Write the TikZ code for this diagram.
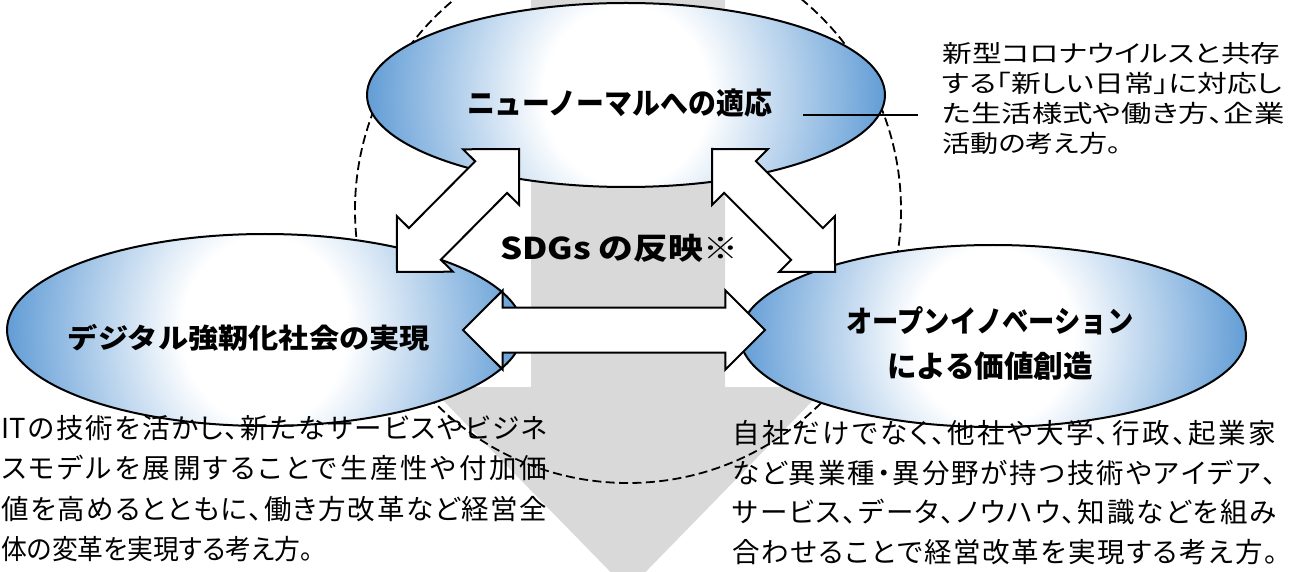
\documentclass[tikz,border=0pt]{standalone}
\usepackage{fontspec}
\usepackage{graphicx}
\usetikzlibrary{calc,shapes.geometric}
\newfontfamily\jp{Noto Sans CJK JP}
\newfontfamily\jpp{Noto Sans CJK JP}[RawFeature=+palt]
\definecolor{ellb}{RGB}{98,157,214}
\definecolor{graybg}{RGB}{217,217,217}
\pgfdeclareradialshading{ellblue}{\pgfpointorigin}{color(0bp)=(white); color(8bp)=(white); color(25bp)=(ellb); color(50bp)=(ellb)}
\newdimen\pxu \pxu=0.5pt
\newcommand\fitw[2]{\resizebox{#1\pxu}{\height}{#2}}
\makeatletter
\newcommand\jline[2]{\hbox to #1\pxu{\let\jl@sep\relax\@tfor\jl@c:=#2\do{\jl@sep\jl@c\let\jl@sep\hfill}}}
\makeatother
\tikzset{
  blockarr/.style={draw=black, fill=white, line width=1pt, line join=miter},
  ellout/.style={ellipse, draw=black, line width=1pt, inner sep=0pt, outer sep=0pt},
  circdash/.style={draw=black, line width=0.9pt, dash pattern=on 4.5pt off 2.2pt},
  title/.style={inner sep=0pt, font=\jp\bfseries\fontsize{15}{22.5}\selectfont, align=center},
  body/.style={inner sep=0pt, anchor=north west, align=left, font=\jpp\fontsize{13.75}{20.25}\selectfont},
  note/.style={inner sep=0pt, anchor=north west, align=left, font=\jpp\fontsize{12}{15}\selectfont},
}
\newcommand\shellipse[5]{%
  \begin{scope}
    \clip (#2,#3) ellipse [x radius=#4, y radius=#5];
    \shade[shading=ellblue] ({#2-#4},{#3-3*#5}) rectangle ({#2+#4},{#3+3*#5});
  \end{scope}
  \node[ellout, minimum width=#4pt, minimum height=#5pt] (#1) at (#2,#3) {};}
\newcommand\blockarrow[2]{%
  \draw[blockarr] (#1)
    -- ($(#1)!19.8pt!(#2)!19.75pt!90:(#2)$)
    -- ($(#1)!19.8pt!(#2)!11.25pt!90:(#2)$)
    -- ($(#2)!19.8pt!(#1)!11.25pt!-90:(#1)$)
    -- ($(#2)!19.8pt!(#1)!19.75pt!-90:(#1)$)
    -- (#2)
    -- ($(#2)!19.8pt!(#1)!19.75pt!90:(#1)$)
    -- ($(#2)!19.8pt!(#1)!11.25pt!90:(#1)$)
    -- ($(#1)!19.8pt!(#2)!11.25pt!-90:(#2)$)
    -- ($(#1)!19.8pt!(#2)!19.75pt!-90:(#2)$)
    -- cycle;}
\begin{document}
\begin{tikzpicture}[x=0.5pt,y=-0.5pt]
\useasboundingbox (0,0) rectangle (1290,572);
\clip (0,0) rectangle (1290,572);
% big gray arrow
\fill[graybg] (531,-5) -- (531,387) -- (430,387) -- (628,590) -- (826,387) -- (725,387) -- (725,-5) -- cycle;
% dashed circle
\draw[circdash] (628,210) circle [radius=273];
% ellipses
\shellipse{etop}{626}{95}{259}{92}
\shellipse{eleft}{265}{330}{258}{96}
\shellipse{eright}{993}{336}{253}{91}
% callout line
\coordinate (cl1) at (803,115);
\coordinate (cl2) at (918,115);
\draw[line width=0.6pt] (cl1) -- (cl2);
% block double arrows
\coordinate (a1) at (519,149); \coordinate (a2) at (397,272);
\coordinate (b1) at (712,149); \coordinate (b2) at (835,272);
\coordinate (c1) at (463,330); \coordinate (c2) at (765,330);
\blockarrow{a1}{a2}
\blockarrow{b1}{b2}
\blockarrow{c1}{c2}
% titles
\node[title] (ttop) at (619.5,103) {\fitw{305}{ニューノーマルへの適応}};
\node[title, font=\jp\bfseries\fontsize{13.75}{20}\selectfont] (tleft) at (249,338) {\fitw{362}{デジタル強靭化社会の実現}};
\node[title] (tright) at (990,343) {\fitw{287}{オープンイノベーション}\\\fitw{206}{による価値創造}};
\node[title] (tsdg) at (619,248) {\fitw{238}{SDGs の反映※}};
% notes
\node[note] (ntop) at (942,42) {\fitw{338}{新型コロナウイルスと共存}\\
\fitw{340}{する「新しい日常」に対応し}\\
\fitw{342}{た生活様式や働き方、企業}\\
\scalebox{1.17}[1]{活動の考え方。}};
\node[body] (nleft) at (1,414.6) {\jline{546}{{IT}の技術を活かし、新たなサービスやビジネ}\\
\jline{546}{スモデルを展開することで生産性や付加価}\\
\jline{546}{値を高めるとともに、働き方改革など経営全}\\
\fitw{312}{体の変革を実現する考え方。}};
\node[body, font=\jpp\fontsize{13.75}{19.75}\selectfont] (nright) at (732,420) {\jline{544}{自社だけでなく、他社や大学、行政、起業家}\\
\jline{544}{など異業種・異分野が持つ技術やアイデア、}\\
\jline{544}{サービス、データ、ノウハウ、知識などを組み}\\
\jline{546}{合わせることで経営改革を実現する考え方。}};
\end{tikzpicture}
\end{document}
